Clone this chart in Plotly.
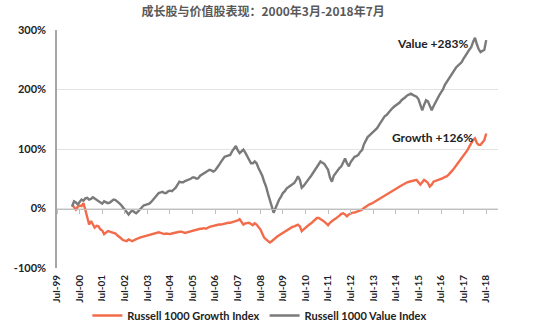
import pandas as pd
import plotly.graph_objects as go

# Monthly observations, Mar 2000 - Jul 2018 (cumulative return, %)
dates = pd.date_range("2000-03-01", "2018-07-01", freq="MS")

growth = [
    # 2000 (Mar-Dec)
    7, 3, -2, 3, 5, 4, 9, -2, -15, -27,
    # 2001
    -21, -26, -32, -29, -30, -35, -37, -43, -40, -38, -39, -40,
    # 2002
    -41, -42, -45, -47, -50, -53, -54, -55, -52, -53, -55, -53,
    # 2003
    -51, -50, -49, -48, -47, -46, -45, -44, -43, -43, -42, -41,
    # 2004
    -40, -41, -42, -43, -42, -43, -43, -42, -41, -40, -40, -39,
    # 2005
    -39, -40, -41, -40, -39, -38, -37, -36, -35, -35, -34, -34,
    # 2006
    -33, -34, -32, -31, -30, -29, -29, -28, -27, -27, -26, -25,
    # 2007
    -25, -24, -24, -23, -23, -22, -20, -18, -22, -27, -25, -24,
    # 2008
    -24, -26, -28, -25, -27, -31, -35, -42, -49, -52, -54, -57,
    # 2009
    -55, -52, -49, -47, -45, -43, -41, -39, -37, -34, -32, -31,
    # 2010
    -30, -29, -27, -30, -38, -35, -32, -29, -27, -25, -22, -19,
    # 2011
    -16, -16, -18, -19, -22, -25, -28, -24, -21, -19, -17, -15,
    # 2012
    -12, -9, -8, -10, -13, -10, -8, -7, -7, -6, -5, -4,
    # 2013
    -2, 1, 3, 5, 7, 8, 10, 12, 14, 16, 18, 20,
    # 2014
    22, 24, 26, 28, 30, 32, 34, 35, 37, 39, 40, 42,
    # 2015
    44, 45, 46, 46, 47, 48, 44, 40, 44, 48, 46, 43,
    # 2016
    37, 40, 45, 46, 47, 48, 49, 51, 53, 54, 57, 60,
    # 2017
    64, 68, 72, 76, 80, 84, 88, 93, 98, 104, 110, 115,
    # 2018 (Jan-Jul)
    118, 110, 107, 107, 111, 115, 126,
]

value = [
    # 2000 (Mar-Dec)
    3, 12, 10, 7, 11, 15, 13, 17, 18, 15,
    # 2001
    16, 19, 17, 15, 13, 10, 8, 12, 11, 9, 10, 12,
    # 2002
    15, 14, 12, 9, 6, 2, -2, -7, -10, -6, -3, -6,
    # 2003
    -8, -5, -2, 2, 5, 6, 7, 8, 11, 15, 19, 23,
    # 2004
    26, 27, 28, 26, 26, 29, 30, 29, 32, 35, 40, 45,
    # 2005
    44, 44, 46, 47, 48, 50, 52, 52, 50, 51, 55, 57,
    # 2006
    59, 62, 63, 65, 64, 62, 64, 68, 73, 78, 83, 87,
    # 2007
    88, 89, 90, 96, 101, 105, 98, 93, 96, 99, 94, 87,
    # 2008
    82, 76, 76, 79, 76, 68, 62, 55, 45, 37, 25, 15,
    # 2009
    3, -7, 0, 9, 15, 20, 26, 29, 34, 36, 38, 40,
    # 2010
    43, 48, 54, 48, 35, 38, 43, 46, 51, 55, 60, 65,
    # 2011
    70, 75, 79, 77, 75, 70, 65, 52, 45, 55, 60, 65,
    # 2012
    68, 71, 78, 84, 76, 71, 78, 82, 87, 88, 90, 95,
    # 2013
    98, 108, 115, 120, 123, 126, 129, 132, 135, 140, 145, 150,
    # 2014
    155, 157, 161, 165, 168, 171, 173, 176, 178, 182, 184, 187,
    # 2015
    190, 192, 193, 191, 190, 188, 184, 173, 165, 174, 182, 180,
    # 2016
    171, 165, 172, 179, 185, 190, 195, 200, 208, 213, 218, 224,
    # 2017
    228, 234, 237, 240, 243, 246, 252, 256, 262, 267, 271, 280,
    # 2018 (Jan-Jul)
    287, 276, 268, 263, 265, 267, 283,
]

year_ticks = pd.date_range("1999-07-01", "2018-07-01", freq="12MS")
year_labels = [d.strftime("%b-%y") for d in year_ticks]
y_ticks = [-100, 0, 100, 200, 300]
y_labels = [f"{v}%" for v in y_ticks]

ORANGE = "#F26B4A"
GREY = "#7A7A7A"
FONT = "Lato, 'Noto Sans CJK SC', sans-serif"
x_range = ["1999-07-01", "2019-01-08"]


def bold(labels):
    return [f"<b>{t}</b>" for t in labels]


fig = go.Figure()
fig.add_trace(go.Scatter(
    x=dates, y=growth, mode="lines", name="<b>Russell 1000 Growth Index</b>",
    line=dict(color=ORANGE, width=2.4),
))
fig.add_trace(go.Scatter(
    x=dates, y=value, mode="lines", name="<b>Russell 1000 Value Index</b>",
    line=dict(color=GREY, width=2.4), xaxis="x2",
))

fig.add_annotation(x="2016-02-15", y=value[-1] - 6, text="<b>Value +283%</b>",
                   showarrow=False, font=dict(size=12, color="#222222", family=FONT))
fig.add_annotation(x="2016-02-15", y=growth[-1] - 6, text="<b>Growth +126%</b>",
                   showarrow=False, font=dict(size=12, color="#222222", family=FONT))

fig.update_layout(
    width=554, height=330,
    margin=dict(l=57, r=56, t=30, b=62, autoexpand=False),
    paper_bgcolor="white", plot_bgcolor="white",
    font=dict(family=FONT, color="#333333"),
    title=dict(
        text="<b>成长股与价值股表现：2000年3月-2018年7月</b>",
        x=0.4675, xanchor="center", xref="paper",
        y=0.964, yanchor="middle", yref="container",
        font=dict(size=12, color="#595959", family="'Noto Sans CJK SC', sans-serif"),
    ),
    xaxis=dict(
        type="date", range=x_range, automargin=False,
        tickvals=year_ticks, ticktext=bold(year_labels), tickangle=-90,
        tickfont=dict(size=10, color="#222222", family=FONT),
        showgrid=False, showline=False, ticks="", zeroline=False,
        ticklabelstandoff=4,
    ),
    xaxis2=dict(
        type="date", overlaying="x", matches="x", anchor="free",
        position=0.25, side="bottom", automargin=False,
        tickvals=year_ticks, showticklabels=False,
        showgrid=False, showline=True, linecolor="#BFBFBF", linewidth=1,
        ticks="outside", ticklen=4, tickcolor="#BFBFBF",
    ),
    yaxis=dict(
        range=[-100, 300], tickvals=y_ticks, ticktext=bold(y_labels),
        tickfont=dict(size=11, color="#222222", family=FONT), automargin=False,
        showgrid=True, gridcolor="#E3E3E3", gridwidth=1,
        showline=True, linecolor="#A6A6A6", linewidth=1.5,
        zeroline=False, ticks="", ticklabelstandoff=7,
    ),
    legend=dict(
        orientation="h", x=0.46, xanchor="center", y=0.0, yanchor="bottom",
        yref="container", font=dict(size=11, color="#222222", family=FONT),
        itemwidth=30,
    ),
    showlegend=True,
)

fig.write_html("out.html")
